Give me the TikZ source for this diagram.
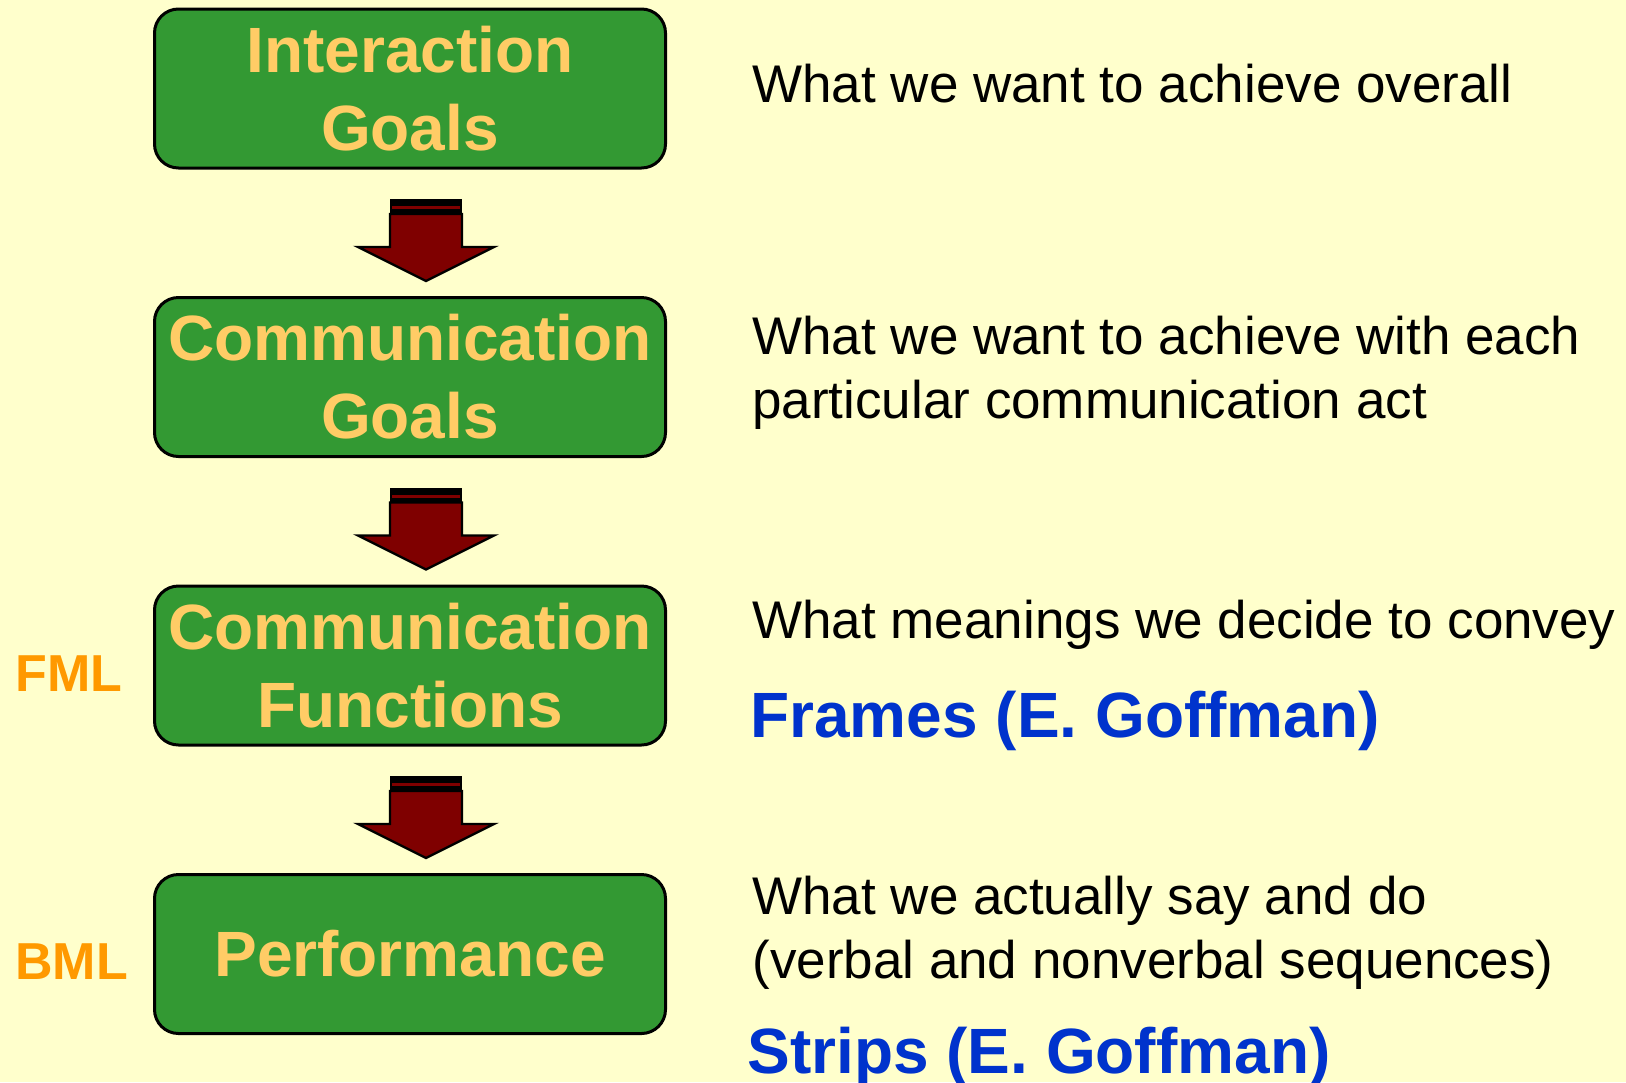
\documentclass[tikz,border=0pt]{standalone}
\usepackage{fontspec}
\setmainfont{Liberation Sans}
\usetikzlibrary{positioning}
\definecolor{bg}{HTML}{FFFFCC}
\definecolor{boxgreen}{HTML}{339933}
\definecolor{boxtext}{HTML}{FFCC66}
\definecolor{arrowred}{HTML}{7F0000}
\definecolor{goffblue}{HTML}{0033CC}
\definecolor{mlorange}{HTML}{FF9900}
\begin{document}
\begin{tikzpicture}[x=0.5pt,y=-0.5pt,
 level/.style={draw=black,line width=1.5pt,fill=boxgreen,rounded corners=12pt,
  minimum width=255.5pt,minimum height=79.5pt,outer sep=0pt,inner sep=0pt,
  align=center,text=boxtext,font=\fontsize{32}{39}\selectfont\bfseries},
 desc/.style={anchor=base west,align=left,inner sep=0pt,font=\fontsize{26.5}{32}\selectfont},
 goff/.style={anchor=base west,inner sep=0pt,text=goffblue,font=\fontsize{32}{39}\selectfont\bfseries},
 ml/.style={anchor=base west,inner sep=0pt,text=mlorange,font=\fontsize{26}{30}\selectfont\bfseries}]
 \fill[bg] (0,0) rectangle (1626,1082);
 \useasboundingbox (0,0) rectangle (1626,1082);
 \node[level] (ig) at (410,88.5) {Interaction\\Goals};
 \node[level,below=64.75pt of ig] (cg) {Communication\\Goals};
 \node[level,below=64.75pt of cg] (cf) {Communication\\Functions};
 \node[level,below=64.75pt of cf] (pf) {Performance};
 \foreach \a in {ig,cg,cf}{
  \begin{scope}[shift={(\a.south)}]
   \fill (-20,31) rectangle (52,46);
   \fill[arrowred] (-18,38) rectangle (50,41);
   \draw[fill=arrowred,line width=1.2pt] (-20,46) -- (-20,79) -- (-52,79) -- (16,113)
    -- (84,79) -- (52,79) -- (52,46) -- cycle;
  \end{scope}
 }
 \node[desc] (d1) at (752,102) {What we want to achieve overall};
 \node[desc] (d2) at (752,418) {What we want to achieve with each\\particular communication act};
 \node[desc] (d3) at (752,638) {What meanings we decide to convey};
 \node[goff] (frames) at (750,737) {Frames (E. Goffman)};
 \node[desc] (d4) at (752,978) {What we actually say and do\\(verbal and nonverbal sequences)};
 \node[goff] (strips) at (747,1073) {Strips (E. Goffman)};
 \node[ml] (fml) at (15,691) {FML};
 \node[ml] (bml) at (15,979) {BML};
\end{tikzpicture}
\end{document}
